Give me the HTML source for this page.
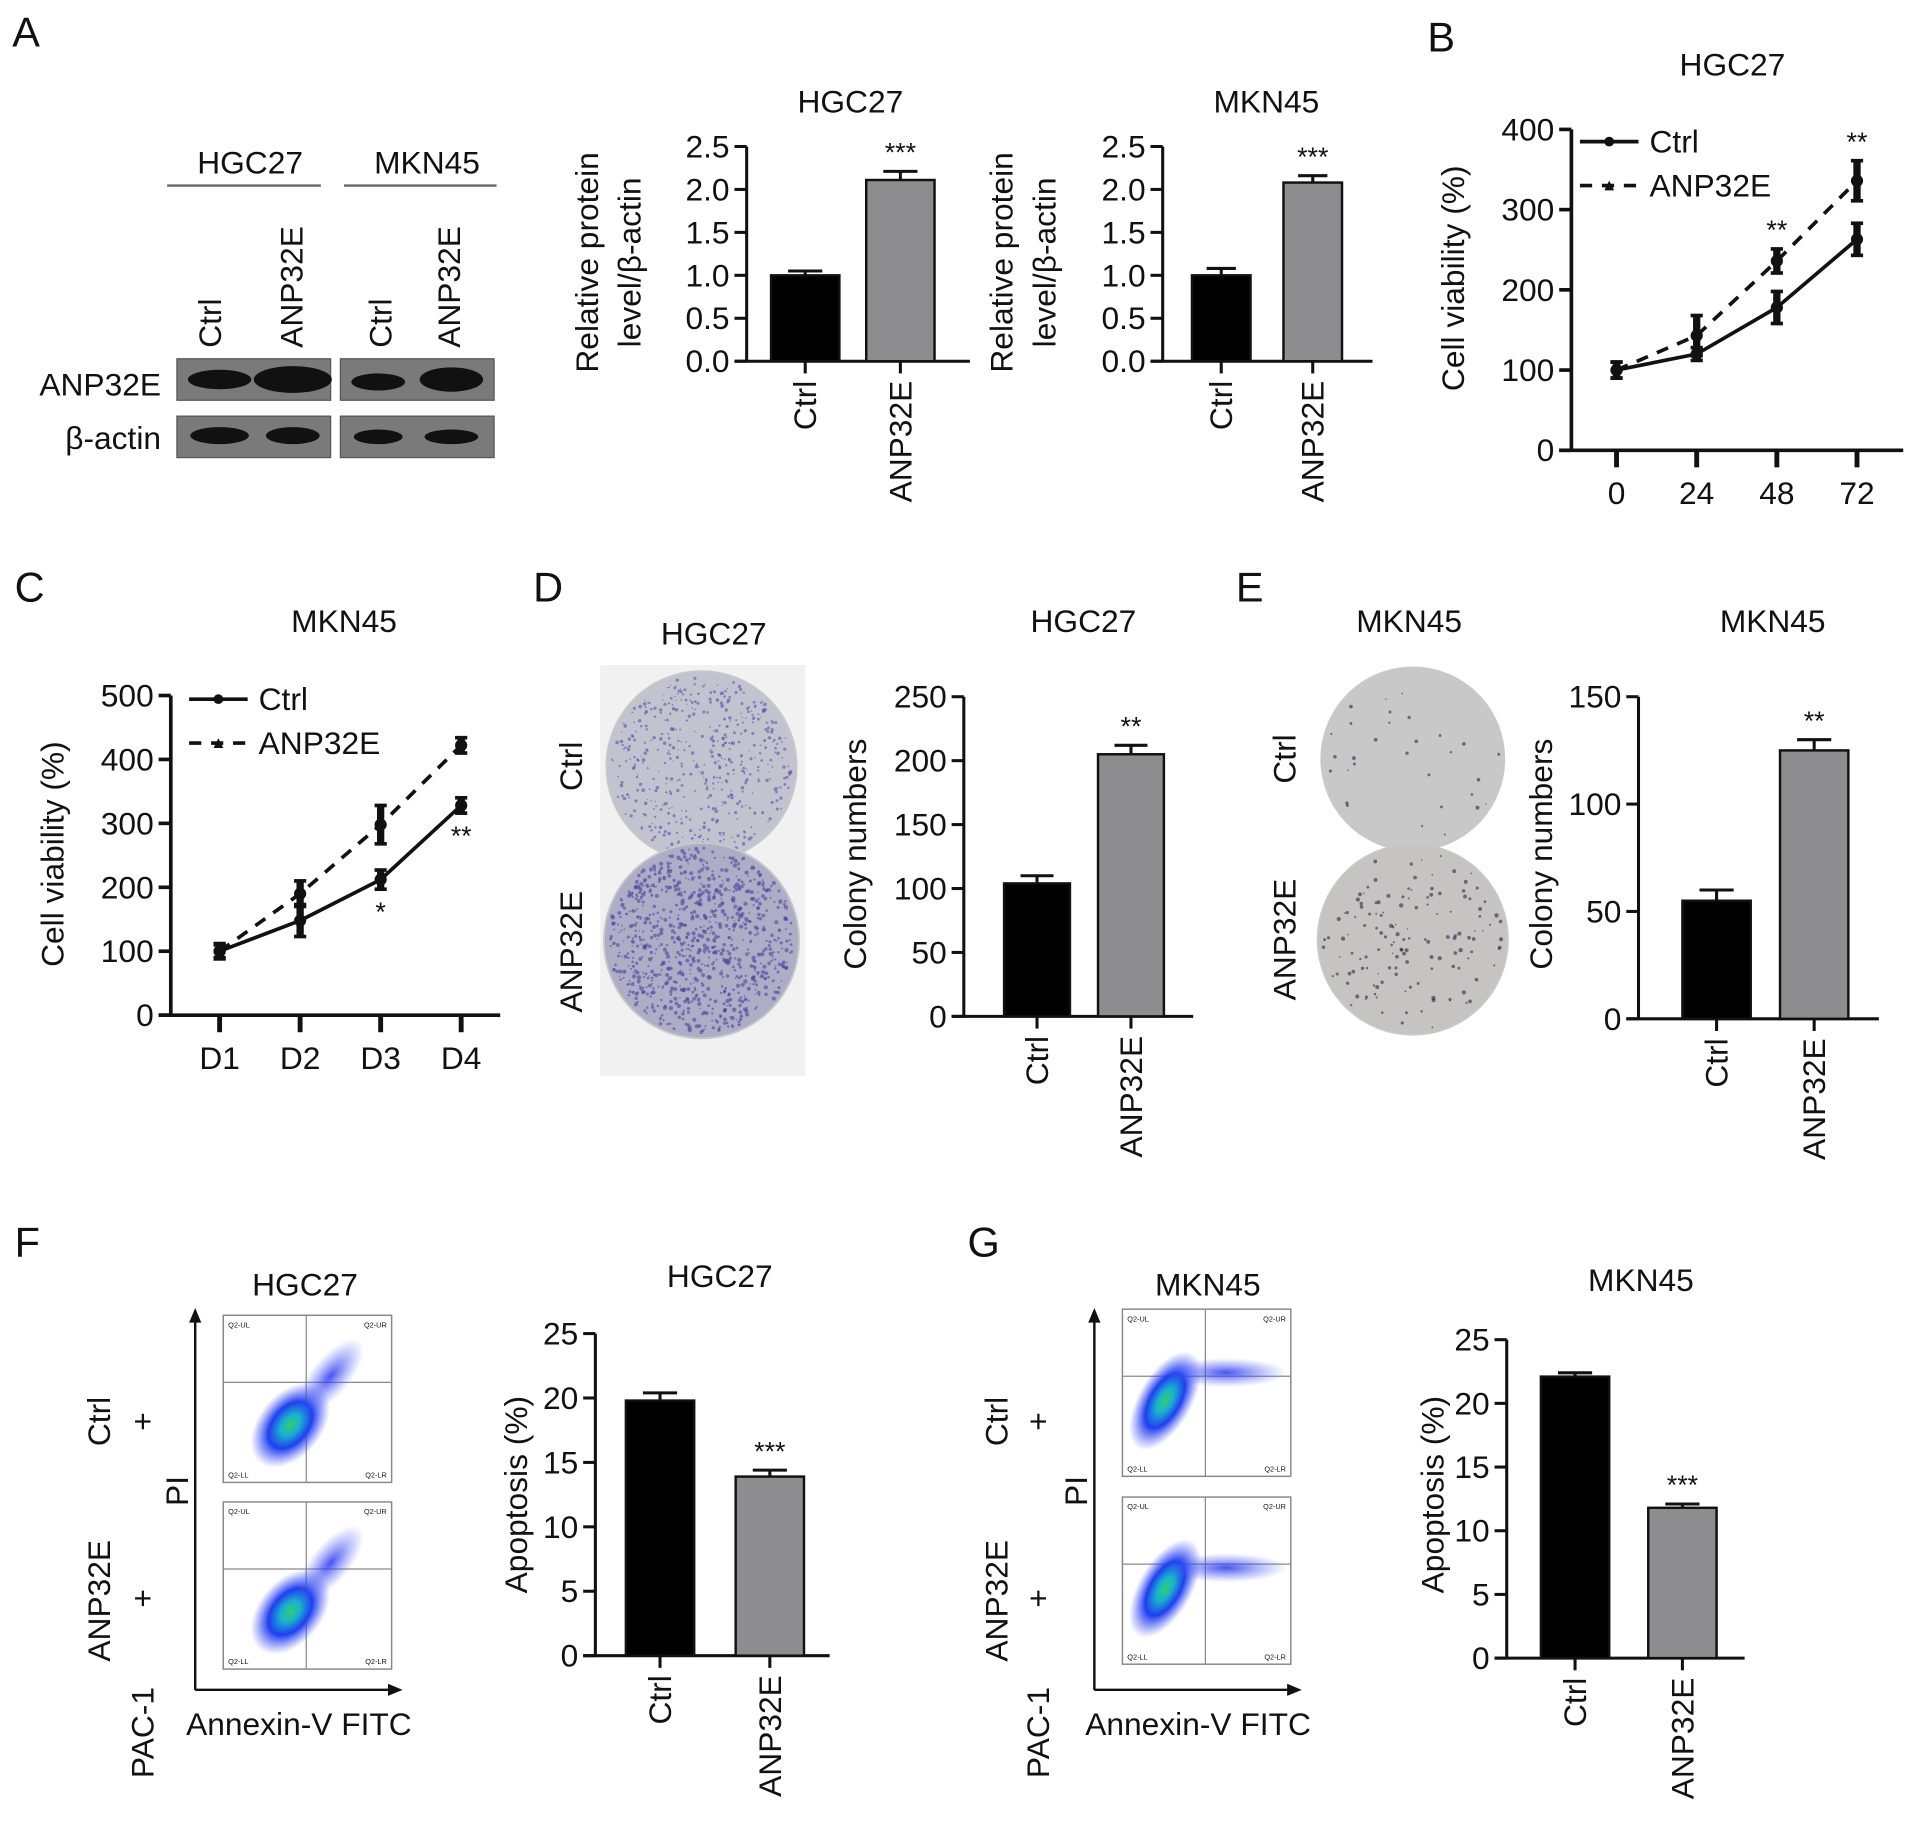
<!DOCTYPE html>
<html><head><meta charset="utf-8"><style>
html,body{margin:0;padding:0;background:#fff}
svg{display:block;font-family:"Liberation Sans",Arial,sans-serif}
</style></head><body>
<svg id="fig" xmlns="http://www.w3.org/2000/svg" width="1913" height="1829" viewBox="0 0 1568 1499">
<defs>
<radialGradient id="dens" cx="50%" cy="50%" r="50%">
<stop offset="0" stop-color="#2fd06a"/><stop offset="0.25" stop-color="#1ab0d0"/><stop offset="0.55" stop-color="#1f3ef0"/><stop offset="1" stop-color="#4a5cf5" stop-opacity="0"/>
</radialGradient>
<radialGradient id="dens2" cx="50%" cy="50%" r="50%">
<stop offset="0" stop-color="#3040f0" stop-opacity="0.9"/><stop offset="1" stop-color="#6070f5" stop-opacity="0"/>
</radialGradient>
</defs>
<g id="static"></g>
</svg>
<script>
// ---- Data ----
const barCats = ['Ctrl', 'ANP32E'];
const aHgcVals = [1.0, 2.11];
const aHgcErr = [0.05, 0.1];
const aMknVals = [1.0, 2.08];
const aMknErr = [0.08, 0.08];
const dVals = [104, 205];
const dErr = [6, 7];
const eVals = [55, 125];
const eErr = [5, 5];
const fVals = [19.8, 13.9];
const fErr = [0.6, 0.5];
const gVals = [22.1, 11.8];
const gErr = [0.3, 0.3];
const bTimes = ['0', '24', '48', '72'];
const bCtrl = [100, 120, 178, 263];
const bCtrlErr = [10, 8, 20, 20];
const bAnp = [100, 143, 236, 336];
const bAnpErr = [10, 25, 15, 25];
const cDays = ['D1', 'D2', 'D3', 'D4'];
const cCtrl = [100, 148, 212, 328];
const cCtrlErr = [12, 25, 15, 12];
const cAnp = [100, 190, 298, 422];
const cAnpErr = [10, 20, 30, 12];
const aTicks = ['0.0','0.5','1.0','1.5','2.0','2.5'];
const dTicks = ['0','50','100','150','200','250'];
const eTicks = ['0','50','100','150'];
const fgTicks = ['0','5','10','15','20','25'];
const bTicks = ['0','100','200','300','400'];
const cTicks = ['0','100','200','300','400','500'];

const NS = 'http://www.w3.org/2000/svg';
const root = document.getElementById('fig');
function mk(tag, attrs, parent, txt) {
  const e = document.createElementNS(NS, tag);
  for (const k in attrs) e.setAttribute(k, attrs[k]);
  if (txt !== undefined) e.textContent = txt;
  (parent || root).appendChild(e);
  return e;
}
function grp(name, parent) {
  const g = mk('g', {}, parent);
  
  
  return g;
}
function label(parent, name, x, y, txt, size, anchor, rot) {
  const t = mk('text', {x: x, y: y, 'font-size': size, 'text-anchor': anchor || 'middle', fill: '#111'}, parent, txt);
  if (rot) t.setAttribute('transform', 'rotate(' + rot + ' ' + x + ' ' + y + ')');
  
  
  return t;
}

function barChart(o) {
  const g = grp(o.name);
  const max = parseFloat(o.ticks[o.ticks.length - 1]);
  const ys = v => o.y0 - (v / max) * (o.y0 - o.yTop);
  mk('line', {x1: o.ax, y1: o.y0, x2: o.ax, y2: o.yTop, stroke: '#111', 'stroke-width': 2.5}, g);
  mk('line', {x1: o.ax - 10, y1: o.y0, x2: o.xEnd, y2: o.y0, stroke: '#111', 'stroke-width': 2.5}, g);
  o.ticks.forEach(t => {
    const y = ys(parseFloat(t));
    mk('line', {x1: o.ax - 10, y1: y, x2: o.ax, y2: y, stroke: '#111', 'stroke-width': 2.5}, g);
    label(g, 'y-tick-label', o.ax - 14, y + 9, t, 26, 'end');
  });
  o.vals.forEach((v, i) => {
    const cx = o.cx[i], w = o.bw;
    const r = mk('rect', {x: cx - w / 2, y: ys(v), width: w, height: o.y0 - ys(v), fill: i ? '#8d8d8f' : '#000', stroke: '#111', 'stroke-width': 2}, g);
    
    
    const ye = ys(v + o.err[i]);
    mk('line', {x1: cx, y1: ys(v), x2: cx, y2: ye, stroke: '#111', 'stroke-width': 2.5}, g);
    mk('line', {x1: cx - w / 4, y1: ye, x2: cx + w / 4, y2: ye, stroke: '#111', 'stroke-width': 2.5}, g);
    mk('line', {x1: cx, y1: o.y0, x2: cx, y2: o.y0 + 10, stroke: '#111', 'stroke-width': 2.5}, g);
    label(g, 'x-tick-label', cx + 9, o.y0 + 16, barCats[i], 26, 'end', -90);
  });
  label(g, 'significance-stars', o.cx[1], ys(o.vals[1] + o.err[1]) - 8, o.star, 22);
  label(g, 'chart-title', o.tx, o.ty, o.title, 26);
  o.ytitle.forEach((t, k) => label(g, 'y-axis-title', o.ytx[k], o.yty, t, 26, 'middle', -90));
}

function lineChart(o) {
  const g = grp(o.name);
  const max = parseFloat(o.ticks[o.ticks.length - 1]);
  const ys = v => o.y0 - (v / max) * (o.y0 - o.yTop);
  const xs = i => o.xs0 + i * o.dx;
  mk('line', {x1: o.ax, y1: o.y0, x2: o.ax, y2: o.yTop, stroke: '#111', 'stroke-width': 3}, g);
  mk('line', {x1: o.ax - 10, y1: o.y0, x2: o.xEnd, y2: o.y0, stroke: '#111', 'stroke-width': 3}, g);
  o.ticks.forEach(t => {
    const y = ys(parseFloat(t));
    mk('line', {x1: o.ax - 10, y1: y, x2: o.ax, y2: y, stroke: '#111', 'stroke-width': 3}, g);
    label(g, 'y-tick-label', o.ax - 14, y + 9, t, 26, 'end');
  });
  o.cats.forEach((c, i) => {
    mk('line', {x1: xs(i), y1: o.y0 + o.tickOff, x2: xs(i), y2: o.y0 + o.tickOff + 14, stroke: '#111', 'stroke-width': 4}, g);
    label(g, 'x-tick-label', xs(i), o.y0 + o.labOff, c, 26);
  });
  [[o.a, o.aErr, '10 8'], [o.c, o.cErr, '']].forEach(([vals, err, dash], s) => {
    const pts = vals.map((v, i) => xs(i) + ',' + ys(v)).join(' ');
    const pl = mk('polyline', {points: pts, fill: 'none', stroke: '#111', 'stroke-width': 3, 'stroke-dasharray': dash}, g);
    
    
    vals.forEach((v, i) => {
      const x = xs(i);
      mk('line', {x1: x, y1: ys(v - err[i]), x2: x, y2: ys(v + err[i]), stroke: '#111', 'stroke-width': 6}, g);
      mk('line', {x1: x - 5, y1: ys(v + err[i]), x2: x + 5, y2: ys(v + err[i]), stroke: '#111', 'stroke-width': 3}, g);
      mk('line', {x1: x - 5, y1: ys(v - err[i]), x2: x + 5, y2: ys(v - err[i]), stroke: '#111', 'stroke-width': 3}, g);
      const m = mk('circle', {cx: x, cy: ys(v), r: 5, fill: '#111'}, g);
      
      
    });
  });
  o.stars.forEach(s => label(g, 'significance-stars', xs(s[0]), s[1] === 'a' ? ys(o.a[s[0]] + o.aErr[s[0]]) - 8 : ys(o.c[s[0]] - o.cErr[s[0]]) + 26, s[2], 22));
  const lg = grp('legend', g);
  mk('line', {x1: o.lx, y1: o.ly, x2: o.lx + 48, y2: o.ly, stroke: '#111', 'stroke-width': 3}, lg);
  mk('circle', {cx: o.lx + 24, cy: o.ly, r: 4, fill: '#111'}, lg);
  label(lg, 'legend-entry', o.lx + 57, o.ly + 9, 'Ctrl', 26, 'start');
  mk('line', {x1: o.lx, y1: o.ly + 36, x2: o.lx + 48, y2: o.ly + 36, stroke: '#111', 'stroke-width': 3, 'stroke-dasharray': '10 8'}, lg);
  mk('polygon', {points: (o.lx + 20) + ',' + (o.ly + 40) + ' ' + (o.lx + 28) + ',' + (o.ly + 40) + ' ' + (o.lx + 24) + ',' + (o.ly + 32), fill: '#111'}, lg);
  label(lg, 'legend-entry', o.lx + 57, o.ly + 45, 'ANP32E', 26, 'start');
  label(g, 'chart-title', o.tx, o.ty, o.title, 26);
  label(g, 'y-axis-title', o.ytx, o.yty, 'Cell viability (%)', 26, 'middle', -90);
}

// panel letters
const S = document.getElementById('static');
[['A',10,38],['B',1170,42],['C',12,493],['D',437,493],['E',1013,493],['F',12,1030],['G',793,1030]].forEach(p => label(S, 'panel-letter', p[1], p[2], p[0], 34, 'start'));

// western blot
const wb = grp('western-blot');
label(wb, 'cell-line-label', 205, 142, 'HGC27', 26);
label(wb, 'cell-line-label', 350, 142, 'MKN45', 26);
mk('line', {x1: 137, y1: 152, x2: 263, y2: 152, stroke: '#666', 'stroke-width': 2}, wb);
mk('line', {x1: 282, y1: 152, x2: 407, y2: 152, stroke: '#666', 'stroke-width': 2}, wb);
[[181,'Ctrl'],[248,'ANP32E'],[321,'Ctrl'],[377,'ANP32E']].forEach(l => label(wb, 'lane-label', l[0], 285, l[1], 26, 'start', -90));
label(wb, 'row-label', 132, 324, 'ANP32E', 26, 'end');
label(wb, 'row-label', 132, 368, 'β-actin', 26, 'end');
[[145,294],[279,294],[145,341],[279,341]].forEach(b => mk('rect', {x: b[0], y: b[1], width: 126, height: 34, fill: '#7a7a7a', stroke: '#555'}, wb));
[[180,311,26,8],[240,311,32,11],[310,313,22,7],[370,311,26,10],[180,357,24,7],[240,357,22,7],[310,358,20,6],[370,358,22,6]].forEach(b => mk('ellipse', {cx: b[0], cy: b[1], rx: b[2], ry: b[3], fill: '#111'}, wb));

barChart({name:'chart-a-hgc27', ax:612, y0:296, yTop:120, xEnd:795, ticks:aTicks, vals:aHgcVals, err:aHgcErr, cx:[660,738], bw:56, star:'***', title:'HGC27', tx:697, ty:92, ytitle:['Relative protein','level/β-actin'], ytx:[490,525], yty:215});
barChart({name:'chart-a-mkn45', ax:953, y0:296, yTop:120, xEnd:1125, ticks:aTicks, vals:aMknVals, err:aMknErr, cx:[1001,1076], bw:48, star:'***', title:'MKN45', tx:1038, ty:92, ytitle:['Relative protein','level/β-actin'], ytx:[830,865], yty:215});
lineChart({name:'chart-b-hgc27', ax:1288, y0:369, yTop:106, xEnd:1560, ticks:bTicks, cats:bTimes, xs0:1325, dx:65.7, tickOff:0, labOff:44, c:bCtrl, cErr:bCtrlErr, a:bAnp, aErr:bAnpErr, stars:[[2,'a','**'],[3,'a','**']], lx:1295, ly:116, title:'HGC27', tx:1420, ty:62, ytx:1200, yty:228});
lineChart({name:'chart-c-mkn45', ax:140, y0:832, yTop:570, xEnd:410, ticks:cTicks, cats:cDays, xs0:180, dx:66, tickOff:0, labOff:44, c:cCtrl, cErr:cCtrlErr, a:cAnp, aErr:cAnpErr, stars:[[2,'c','*'],[3,'c','**']], lx:155, ly:573, title:'MKN45', tx:282, ty:518, ytx:52, yty:700});
barChart({name:'chart-d-hgc27', ax:790, y0:833, yTop:571, xEnd:978, ticks:dTicks, vals:dVals, err:dErr, cx:[850,927], bw:54, star:'**', title:'HGC27', tx:888, ty:518, ytitle:['Colony numbers'], ytx:[710], yty:700});
barChart({name:'chart-e-mkn45', ax:1343, y0:835, yTop:571, xEnd:1540, ticks:eTicks, vals:eVals, err:eErr, cx:[1407,1487], bw:56, star:'**', title:'MKN45', tx:1453, ty:518, ytitle:['Colony numbers'], ytx:[1272], yty:700});
barChart({name:'chart-f-hgc27', ax:488, y0:1357, yTop:1093, xEnd:680, ticks:fgTicks, vals:fVals, err:fErr, cx:[541,631], bw:56, star:'***', title:'HGC27', tx:590, ty:1055, ytitle:['Apoptosis (%)'], ytx:[432], yty:1225});
barChart({name:'chart-g-mkn45', ax:1235, y0:1359, yTop:1098, xEnd:1430, ticks:fgTicks, vals:gVals, err:gErr, cx:[1291,1379], bw:56, star:'***', title:'MKN45', tx:1345, ty:1058, ytitle:['Apoptosis (%)'], ytx:[1183], yty:1225});

// colony plates
let seed = 7;
function rnd() { seed = (seed * 16807) % 2147483647; return seed / 2147483647; }
function plate(name, cx, cy, r, fill, dotColor, n, dr) {
  const g = grp(name);
  mk('circle', {cx: cx, cy: cy, r: r, fill: fill, stroke: '#c8c8c8', 'stroke-width': 1.5}, g);
  for (let i = 0; i < n; i++) {
    const a = rnd() * 6.283, d = Math.sqrt(rnd()) * (r - 4);
    mk('circle', {cx: cx + Math.cos(a) * d, cy: cy + Math.sin(a) * d, r: dr * (0.5 + rnd()), fill: dotColor, opacity: 0.6}, g);
  }
}
const pd = grp('plate-d-background');
mk('rect', {x: 492, y: 545, width: 168, height: 337, fill: '#f1f1f1'}, pd);
plate('plate-d-ctrl', 575, 628, 78, '#c3c2cf', '#5b4fa8', 500, 1.0);
plate('plate-d-anp32e', 575, 771, 80, '#aeadc6', '#4d44a0', 900, 1.2);
label(S, 'row-label', 477, 628, 'Ctrl', 26, 'middle', -90);
label(S, 'row-label', 477, 780, 'ANP32E', 26, 'middle', -90);
label(S, 'chart-title', 585, 528, 'HGC27', 26);
plate('plate-e-ctrl', 1158, 622, 75, '#c9c8c8', '#2a2a40', 30, 1.1);
plate('plate-e-anp32e', 1158, 770, 78, '#c6c3c3', '#2a2a40', 140, 1.2);
label(S, 'row-label', 1062, 622, 'Ctrl', 26, 'middle', -90);
label(S, 'row-label', 1062, 770, 'ANP32E', 26, 'middle', -90);
label(S, 'chart-title', 1155, 518, 'MKN45', 26);

// flow plots
function flow(name, ax, boxes, title, tx, lblx, plusx, gx) {
  const g = grp(name);
  label(g, 'chart-title', tx, 1062, title, 26);
  mk('line', {x1: ax, y1: 1385, x2: ax, y2: 1082, stroke: '#111', 'stroke-width': 2}, g);
  mk('polygon', {points: (ax - 5) + ',1084 ' + (ax + 5) + ',1084 ' + ax + ',1072', fill: '#111'}, g);
  mk('line', {x1: ax, y1: 1385, x2: ax + 160, y2: 1385, stroke: '#111', 'stroke-width': 2}, g);
  mk('polygon', {points: (ax + 158) + ',1380 ' + (ax + 158) + ',1390 ' + (ax + 170) + ',1385', fill: '#111'}, g);
  boxes.forEach((b, k) => {
    const bg = grp('flow-plot', g);
    mk('rect', {x: b[0], y: b[1], width: 138, height: 137, fill: '#fff', stroke: '#888', 'stroke-width': 1.2}, bg);
    mk('line', {x1: b[0], y1: b[1] + 55, x2: b[0] + 138, y2: b[1] + 55, stroke: '#888'}, bg);
    mk('line', {x1: b[0] + 68, y1: b[1], x2: b[0] + 68, y2: b[1] + 137, stroke: '#888'}, bg);
    if (gx === 'h') {
      mk('ellipse', {cx: b[0] + 55, cy: b[1] + 90, rx: 26, ry: 40, fill: 'url(#dens)', transform: 'rotate(40 ' + (b[0] + 55) + ' ' + (b[1] + 90) + ')'}, bg);
      mk('ellipse', {cx: b[0] + 88, cy: b[1] + 50, rx: 16, ry: 38, fill: 'url(#dens2)', transform: 'rotate(40 ' + (b[0] + 88) + ' ' + (b[1] + 50) + ')'}, bg);
    } else {
      mk('ellipse', {cx: b[0] + 35, cy: b[1] + 75, rx: 22, ry: 45, fill: 'url(#dens)', transform: 'rotate(30 ' + (b[0] + 35) + ' ' + (b[1] + 75) + ')'}, bg);
      mk('ellipse', {cx: b[0] + 85, cy: b[1] + (k ? 58 : 52), rx: 50, ry: 12, fill: 'url(#dens2)'}, bg);
    }
    [['Q2-UL',4,10,'start'],['Q2-UR',134,10,'end'],['Q2-LL',4,133,'start'],['Q2-LR',134,133,'end']].forEach(q => label(bg, 'quadrant-label', b[0] + q[1], b[1] + q[2], q[0], 6, q[3]));
  });
  label(g, 'row-label', lblx, 1165, 'Ctrl', 26, 'middle', -90);
  label(g, 'row-label', plusx, 1165, '+', 26, 'middle', -90);
  label(g, 'row-label', lblx, 1312, 'ANP32E', 26, 'middle', -90);
  label(g, 'row-label', plusx, 1310, '+', 26, 'middle', -90);
  label(g, 'row-label', plusx, 1420, 'PAC-1', 26, 'middle', -90);
  label(g, 'y-axis-title', ax - 6, 1222, 'PI', 26, 'middle', -90);
  label(g, 'x-axis-title', ax + 85, 1422, 'Annexin-V FITC', 26);
}
flow('flow-f-hgc27', 160, [[183,1078],[183,1231]], 'HGC27', 250, 90, 126, 'h');
flow('flow-g-mkn45', 897, [[920,1073],[920,1227]], 'MKN45', 990, 826, 860, 'm');
</script>
</body></html>
